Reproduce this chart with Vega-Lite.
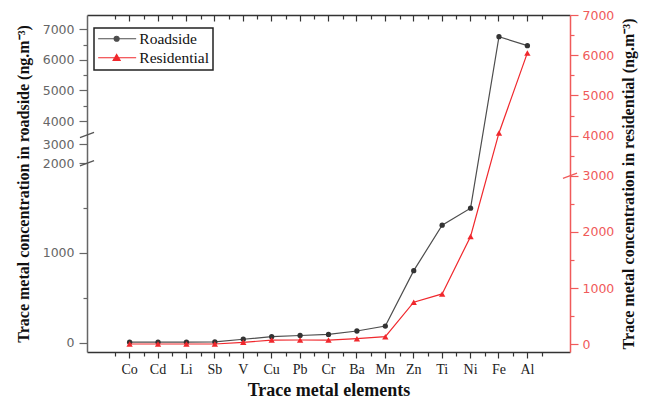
{
  "$schema": "https://vega.github.io/schema/vega-lite/v6.json",
  "width": 483,
  "height": 337,
  "autosize": {"type": "none"},
  "padding": {"left": 87, "top": 15, "right": 75, "bottom": 50},
  "background": "white",
  "config": {"view": {"stroke": null}, "axis": {"grid": false}},
  "datasets": {
    "metals": [
      {"element": "Co", "roadside": 5, "residential": 5},
      {"element": "Cd", "roadside": 5, "residential": 5},
      {"element": "Li", "roadside": 5, "residential": 5},
      {"element": "Sb", "roadside": 8, "residential": 5},
      {"element": "V", "roadside": 38, "residential": 35},
      {"element": "Cu", "roadside": 67, "residential": 75},
      {"element": "Pb", "roadside": 80, "residential": 77},
      {"element": "Cr", "roadside": 92, "residential": 75},
      {"element": "Ba", "roadside": 130, "residential": 100},
      {"element": "Mn", "roadside": 185, "residential": 135},
      {"element": "Zn", "roadside": 803, "residential": 749},
      {"element": "Ti", "roadside": 1310, "residential": 897},
      {"element": "Ni", "roadside": 1500, "residential": 1920},
      {"element": "Fe", "roadside": 6758, "residential": 4066},
      {"element": "Al", "roadside": 6464, "residential": 6057}
    ],
    "leftBreaks": [
      {"element": "Co", "value": 2000},
      {"element": "Co", "value": 3390}
    ],
    "rightBreaks": [
      {"element": "Al", "value": 3000}
    ]
  },
  "layer": [
    {
      "data": {"name": "metals"},
      "mark": {"type": "line", "strokeWidth": 1.2, "point": {"filled": true, "size": 28, "shape": "circle", "fill": "#333"}},
      "encoding": {
        "x": {
          "field": "element", "type": "nominal", "sort": null,
          "scale": {"type": "band", "domain": ["Co","Cd","Li","Sb","V","Cu","Pb","Cr","Ba","Mn","Zn","Ti","Ni","Fe","Al"], "paddingInner": 0, "paddingOuter": 1},
          "axis": {
            "orient": "bottom", "title": "Trace metal elements",
            "titleFont": "Liberation Serif", "titleFontSize": 18, "titleFontWeight": "bold", "titleColor": "#111", "titlePadding": 5,
            "labelFont": "Liberation Serif", "labelFontSize": 14, "labelColor": "#222", "labelAngle": 0, "labelPadding": 4,
            "tickSize": 6, "tickColor": "#333", "tickWidth": 1.2, "domainColor": "#333", "domainWidth": 1.5
          }
        },
        "y": {
          "field": "roadside", "type": "quantitative",
          "scale": {"domain": [-104, 2000, 3000, 4000, 7467], "range": [337, 148.3, 129, 106, 0], "zero": false, "nice": false},
          "axis": {
            "orient": "left",
            "values": [0, 500, 1000, 1500, 2000, 3000, 4000, 4500, 5000, 5500, 6000, 6500, 7000],
            "labelExpr": "datum.value % 1000 === 0 ? format(datum.value, 'd') : ''",
            "tickSize": {"condition": {"test": "datum.value % 1000 !== 0", "value": 4}, "value": 8},
            "domainColor": "#666", "domainWidth": 1.5, "tickColor": "#666", "tickWidth": 1.2,
            "labelColor": "#666", "labelFont": "DejaVu Sans", "labelFontSize": 12.5, "labelPadding": 5,
            "title": "Trace metal concentration in roadside (ng.m⁻³)",
            "titleFont": "Liberation Serif", "titleFontSize": 16, "titleFontWeight": "bold", "titleColor": "#111", "titlePadding": 11
          }
        },
        "color": {
          "datum": "Roadside",
          "scale": {"domain": ["Roadside", "Residential"], "range": ["#4d4d4d", "#f0282d"]},
          "legend": {
            "orient": "none", "legendX": 7, "legendY": 13, "title": null,
            "padding": 3, "rowPadding": 2, "symbolSize": 100, "labelOffset": 26.8,
            "labelFont": "Liberation Serif", "labelFontSize": 15.5, "labelColor": "#111",
            "strokeColor": "#222",
            "encoding": {
              "legend": {"strokeWidth": {"value": 1.5}},
              "symbols": {
                "shape": {"condition": {"test": "datum.value === 'Roadside'", "value": "M-1.32,0H6.28M1.88,0A0.5,0.5 0 1,0 2.88,0A0.5,0.5 0 1,0 1.88,0Z"}, "value": "M-1.32,0H6.28M2.38,-0.65L3.08,0.55L1.68,0.55Z"},
                "fill": {"condition": {"test": "datum.value === 'Roadside'", "value": "#333"}, "value": "#f0282d"},
                "stroke": {"condition": {"test": "datum.value === 'Roadside'", "value": "#4d4d4d"}, "value": "#f0282d"},
                "strokeWidth": {"value": 1.2},
                "opacity": {"value": 1}
              }
            }
          }
        }
      }
    },
    {
      "data": {"name": "leftBreaks"},
      "mark": {"type": "point", "shape": "stroke", "size": 225, "angle": 340, "stroke": "#555", "strokeWidth": 1.3, "opacity": 1},
      "encoding": {
        "x": {
          "field": "element", "type": "nominal", "sort": null, "bandPosition": -1,
          "scale": {"type": "band", "domain": ["Co","Cd","Li","Sb","V","Cu","Pb","Cr","Ba","Mn","Zn","Ti","Ni","Fe","Al"], "paddingInner": 0, "paddingOuter": 1},
          "axis": null
        },
        "y": {
          "field": "value", "type": "quantitative",
          "scale": {"domain": [-104, 2000, 3000, 4000, 7467], "range": [337, 148.3, 129, 106, 0], "zero": false, "nice": false},
          "axis": null
        }
      }
    },
    {
      "data": {"name": "metals"},
      "mark": {"type": "line", "strokeWidth": 1.2, "point": {"filled": true, "size": 40, "shape": "triangle-up"}},
      "encoding": {
        "x": {
          "field": "element", "type": "nominal", "sort": null,
          "scale": {"type": "band", "domain": ["Co","Cd","Li","Sb","V","Cu","Pb","Cr","Ba","Mn","Zn","Ti","Ni","Fe","Al"], "paddingInner": 0, "paddingOuter": 1},
          "axis": {"orient": "bottom", "tickBand": "extent", "labels": false, "title": null, "domain": false, "tickSize": 4, "tickColor": "#333", "tickWidth": 1.2}
        },
        "y": {
          "field": "residential", "type": "quantitative",
          "scale": {"domain": [-137, 3000, 7000], "range": [337, 160.8, 0], "zero": false, "nice": false},
          "axis": {
            "orient": "right",
            "values": [0, 500, 1000, 1500, 2000, 2500, 3000, 3500, 4000, 4500, 5000, 5500, 6000, 6500, 7000],
            "labelExpr": "datum.value % 1000 === 0 ? format(datum.value, 'd') : ''",
            "tickSize": {"condition": {"test": "datum.value % 1000 !== 0", "value": 4}, "value": 8},
            "domainColor": "#f05a5a", "domainWidth": 1.5, "tickColor": "#f05a5a", "tickWidth": 1.2,
            "labelColor": "#f05a5a", "labelFont": "DejaVu Sans", "labelFontSize": 12.5, "labelPadding": 4,
            "title": "Trace metal concentration in residential (ng.m⁻³)", "titleAngle": 270, "titleBaseline": "top",
            "titleFont": "Liberation Serif", "titleFontSize": 16, "titleFontWeight": "bold", "titleColor": "#111", "titlePadding": 7
          }
        },
        "color": {"datum": "Residential"}
      }
    },
    {
      "data": {"name": "rightBreaks"},
      "mark": {"type": "point", "shape": "stroke", "size": 225, "angle": 340, "stroke": "#f05a5a", "strokeWidth": 1.3, "opacity": 1},
      "encoding": {
        "x": {
          "field": "element", "type": "nominal", "sort": null, "bandPosition": 2,
          "scale": {"type": "band", "domain": ["Co","Cd","Li","Sb","V","Cu","Pb","Cr","Ba","Mn","Zn","Ti","Ni","Fe","Al"], "paddingInner": 0, "paddingOuter": 1},
          "axis": null
        },
        "y": {
          "field": "value", "type": "quantitative",
          "scale": {"domain": [-137, 3000, 7000], "range": [337, 160.8, 0], "zero": false, "nice": false},
          "axis": null
        }
      }
    },
    {
      "data": {"name": "metals"},
      "mark": {"type": "point", "opacity": 0},
      "encoding": {
        "x": {
          "field": "element", "type": "nominal", "sort": null,
          "scale": {"type": "band", "domain": ["Co","Cd","Li","Sb","V","Cu","Pb","Cr","Ba","Mn","Zn","Ti","Ni","Fe","Al"], "paddingInner": 0, "paddingOuter": 1},
          "axis": {"orient": "top", "labels": false, "title": null, "tickSize": -6, "tickColor": "#333", "tickWidth": 1.2, "domainColor": "#333", "domainWidth": 1.5}
        }
      }
    },
    {
      "data": {"name": "metals"},
      "mark": {"type": "point", "opacity": 0},
      "encoding": {
        "x": {
          "field": "element", "type": "nominal", "sort": null,
          "scale": {"type": "band", "domain": ["Co","Cd","Li","Sb","V","Cu","Pb","Cr","Ba","Mn","Zn","Ti","Ni","Fe","Al"], "paddingInner": 0, "paddingOuter": 1},
          "axis": {"orient": "top", "tickBand": "extent", "labels": false, "title": null, "domain": false, "tickSize": -4, "tickColor": "#333", "tickWidth": 1.2}
        }
      }
    }
  ],
  "resolve": {"scale": {"y": "independent"}, "axis": {"x": "independent"}}
}
